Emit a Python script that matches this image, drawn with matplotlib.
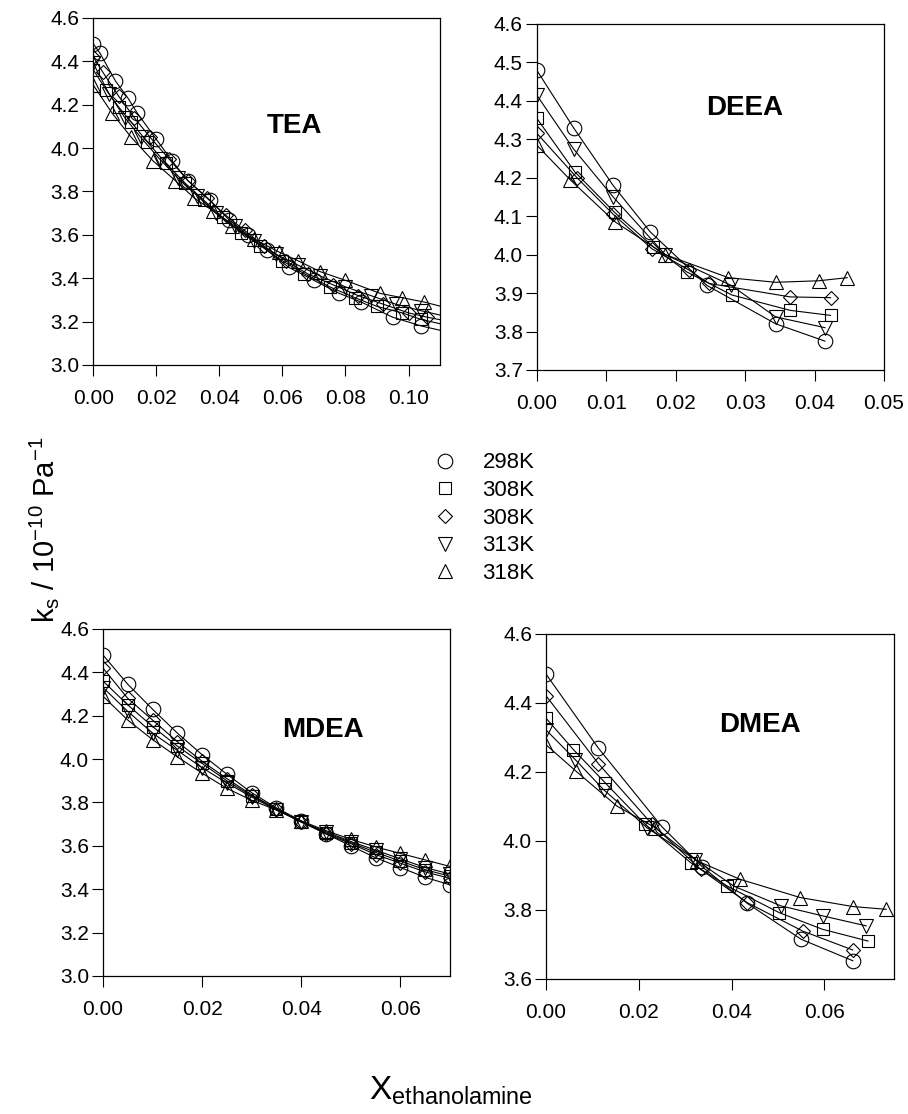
import matplotlib
matplotlib.use("Agg")
import matplotlib.pyplot as plt
from matplotlib.lines import Line2D
from matplotlib.ticker import MultipleLocator, FormatStrFormatter

plt.rcParams['font.family'] = ['Liberation Sans', 'DejaVu Sans']
plt.rcParams['mathtext.fontset'] = 'custom'
plt.rcParams['mathtext.rm'] = 'Liberation Sans'
plt.rcParams['mathtext.it'] = 'Liberation Sans:italic'
plt.rcParams['mathtext.bf'] = 'Liberation Sans:bold'

temps = ['298K', '308K', '308K', '313K', '318K']
markers = ['o', 's', 'D', 'v', '^']
msizes = [10.5, 9, 7.5, 10, 10]

# TEA
tea_x_298 = [0.000, 0.002, 0.007, 0.011, 0.014, 0.020, 0.025, 0.030, 0.037, 0.043, 0.049, 0.055, 0.062, 0.070, 0.078, 0.085, 0.095, 0.104, 0.113]
tea_y_298 = [4.48, 4.44, 4.31, 4.23, 4.16, 4.04, 3.94, 3.85, 3.76, 3.67, 3.60, 3.53, 3.45, 3.39, 3.33, 3.29, 3.22, 3.18, 3.15]
tea_x_308a = [0.000, 0.004, 0.008, 0.012, 0.017, 0.023, 0.029, 0.035, 0.041, 0.047, 0.053, 0.060, 0.067, 0.075, 0.083, 0.090, 0.098, 0.104, 0.113]
tea_y_308a = [4.36, 4.27, 4.19, 4.12, 4.03, 3.93, 3.84, 3.76, 3.68, 3.61, 3.55, 3.48, 3.42, 3.36, 3.31, 3.27, 3.24, 3.21, 3.18]
tea_x_308b = [0.000, 0.003, 0.008, 0.013, 0.018, 0.024, 0.030, 0.036, 0.042, 0.048, 0.054, 0.061, 0.068, 0.076, 0.084, 0.092, 0.100, 0.106, 0.113]
tea_y_308b = [4.42, 4.35, 4.24, 4.14, 4.05, 3.95, 3.85, 3.77, 3.69, 3.62, 3.55, 3.48, 3.42, 3.37, 3.32, 3.28, 3.24, 3.22, 3.20]
tea_x_313 = [0.000, 0.005, 0.010, 0.015, 0.021, 0.027, 0.033, 0.039, 0.045, 0.051, 0.058, 0.065, 0.072, 0.080, 0.088, 0.096, 0.104, 0.113]
tea_y_313 = [4.39, 4.25, 4.14, 4.05, 3.95, 3.86, 3.78, 3.70, 3.64, 3.57, 3.51, 3.46, 3.41, 3.36, 3.32, 3.28, 3.25, 3.22]
tea_x_318 = [0.000, 0.006, 0.012, 0.019, 0.026, 0.032, 0.038, 0.044, 0.051, 0.059, 0.065, 0.072, 0.080, 0.091, 0.098, 0.105, 0.113]
tea_y_318 = [4.29, 4.16, 4.05, 3.94, 3.85, 3.77, 3.71, 3.64, 3.58, 3.52, 3.48, 3.43, 3.39, 3.33, 3.31, 3.29, 3.26]

# DEEA
deea_x_298 = [0.0, 0.0053, 0.0110, 0.0163, 0.0245, 0.0344, 0.0415]
deea_y_298 = [4.48, 4.33, 4.18, 4.06, 3.92, 3.82, 3.775]
deea_x_308a = [0.0, 0.0055, 0.0112, 0.0168, 0.0216, 0.0281, 0.0365, 0.0423]
deea_y_308a = [4.355, 4.215, 4.11, 4.02, 3.955, 3.895, 3.855, 3.842]
deea_x_308b = [0.0, 0.0058, 0.0110, 0.0166, 0.0219, 0.0248, 0.0365, 0.0423]
deea_y_308b = [4.316, 4.20, 4.105, 4.015, 3.96, 3.925, 3.89, 3.888]
deea_x_313 = [0.0, 0.0053, 0.0110, 0.0185, 0.0280, 0.0344, 0.0415]
deea_y_313 = [4.415, 4.275, 4.15, 4.00, 3.92, 3.838, 3.81]
deea_x_318 = [0.0, 0.0048, 0.0113, 0.0185, 0.0276, 0.0344, 0.0406, 0.0447]
deea_y_318 = [4.285, 4.195, 4.085, 4.00, 3.94, 3.928, 3.932, 3.94]

# MDEA
mdea_x = [0.000, 0.005, 0.010, 0.015, 0.020, 0.025, 0.030, 0.035, 0.040, 0.045, 0.050, 0.055, 0.060, 0.065, 0.070]
mdea_y_298 = [4.48, 4.345, 4.23, 4.12, 4.02, 3.93, 3.845, 3.775, 3.715, 3.655, 3.60, 3.545, 3.50, 3.455, 3.42]
mdea_y_308a = [4.36, 4.25, 4.15, 4.06, 3.98, 3.90, 3.83, 3.77, 3.71, 3.66, 3.615, 3.57, 3.53, 3.49, 3.46]
mdea_y_308b = [4.42, 4.28, 4.18, 4.08, 3.99, 3.91, 3.835, 3.77, 3.71, 3.655, 3.61, 3.56, 3.52, 3.48, 3.45]
mdea_y_313 = [4.33, 4.22, 4.12, 4.04, 3.96, 3.89, 3.825, 3.765, 3.71, 3.665, 3.62, 3.58, 3.54, 3.50, 3.47]
mdea_y_318 = [4.29, 4.18, 4.09, 4.01, 3.935, 3.865, 3.81, 3.765, 3.715, 3.67, 3.63, 3.595, 3.565, 3.535, 3.505]

# DMEA
dmea_x_298 = [0.0, 0.0113, 0.0250, 0.0337, 0.0434, 0.0550, 0.0661]
dmea_y_298 = [4.484, 4.269, 4.041, 3.925, 3.819, 3.715, 3.653]
dmea_x_308a = [0.0, 0.0059, 0.0128, 0.0214, 0.0312, 0.0391, 0.0503, 0.0596, 0.0694]
dmea_y_308a = [4.356, 4.265, 4.168, 4.048, 3.937, 3.869, 3.792, 3.744, 3.71]
dmea_x_308b = [0.0, 0.0113, 0.0229, 0.0333, 0.0434, 0.0553, 0.0661]
dmea_y_308b = [4.421, 4.224, 4.048, 3.918, 3.821, 3.739, 3.684]
dmea_x_313 = [0.0, 0.0063, 0.0124, 0.0218, 0.0322, 0.0405, 0.0506, 0.0596, 0.0690]
dmea_y_313 = [4.322, 4.236, 4.149, 4.038, 3.946, 3.869, 3.812, 3.783, 3.754]
dmea_x_318 = [0.0, 0.0065, 0.0153, 0.0236, 0.0326, 0.0418, 0.0548, 0.0661, 0.0733]
dmea_y_318 = [4.279, 4.202, 4.101, 4.038, 3.942, 3.889, 3.836, 3.81, 3.802]


def panel(fig, rect, series, name, name_pos, xlim, xstep, ylim, ystep):
    ax = fig.add_axes(rect)
    for (x, y), m, ms in zip(series, markers, msizes):
        ax.plot(x, y, color='black', lw=0.8, marker=m, ms=ms,
                mfc='none', mec='black', mew=0.8)
    ax.set_xlim(*xlim)
    ax.set_ylim(*ylim)
    ax.xaxis.set_major_locator(MultipleLocator(xstep))
    ax.yaxis.set_major_locator(MultipleLocator(ystep))
    ax.xaxis.set_major_formatter(FormatStrFormatter('%.2f'))
    ax.yaxis.set_major_formatter(FormatStrFormatter('%.1f'))
    ax.tick_params(direction='out', length=8, width=0.8, labelsize=15)
    ax.tick_params(axis='x', pad=9)
    ax.tick_params(axis='y', pad=2)
    for s in ax.spines.values():
        s.set_linewidth(0.9)
    ax.text(name_pos[0], name_pos[1], name, transform=ax.transAxes,
            fontsize=20, fontweight='bold', ha='center', va='center')
    return ax


def main():
    fig = plt.figure(figsize=(9.08, 11.14), dpi=100)

    panel(fig, [0.1028, 0.6724, 0.3818, 0.3115],
          [(tea_x_298, tea_y_298), (tea_x_308a, tea_y_308a), (tea_x_308b, tea_y_308b),
           (tea_x_313, tea_y_313), (tea_x_318, tea_y_318)],
          'TEA', (0.58, 0.69), (0, 0.11), 0.02, (3.0, 4.6), 0.2)
    panel(fig, [0.5911, 0.6679, 0.3825, 0.3106],
          [(deea_x_298, deea_y_298), (deea_x_308a, deea_y_308a), (deea_x_308b, deea_y_308b),
           (deea_x_313, deea_y_313), (deea_x_318, deea_y_318)],
          'DEEA', (0.60, 0.757), (0, 0.05), 0.01, (3.7, 4.6), 0.1)
    panel(fig, [0.1134, 0.1239, 0.3822, 0.3115],
          [(mdea_x, mdea_y_298), (mdea_x, mdea_y_308a), (mdea_x, mdea_y_308b),
           (mdea_x, mdea_y_313), (mdea_x, mdea_y_318)],
          'MDEA', (0.634, 0.709), (0, 0.07), 0.02, (3.0, 4.6), 0.2)
    panel(fig, [0.6013, 0.1212, 0.3833, 0.3097],
          [(dmea_x_298, dmea_y_298), (dmea_x_308a, dmea_y_308a), (dmea_x_308b, dmea_y_308b),
           (dmea_x_313, dmea_y_313), (dmea_x_318, dmea_y_318)],
          'DMEA', (0.615, 0.736), (0, 0.075), 0.02, (3.6, 4.6), 0.2)

    handles = [Line2D([], [], ls='none', marker=m, ms=ms, mfc='none',
                      mec='black', mew=0.8) for m, ms in zip(markers, msizes)]
    fig.legend(handles, temps, loc='upper left', bbox_to_anchor=(0.472, 0.594),
               frameon=False, fontsize=16, handlelength=1.5, handletextpad=0.93,
               labelspacing=0.3, borderpad=0, borderaxespad=0)

    fig.text(0.048, 0.524, r'k$_\mathrm{s}$ / 10$^{\mathrm{-10}}$ Pa$^{\mathrm{-1}}$',
             rotation=90, fontsize=21, ha='center', va='center')
    fig.text(0.497, 0.0126, r'X$_\mathrm{ethanolamine}$', fontsize=24,
             ha='center', va='baseline')

    fig.savefig('out.png', dpi=100)


if __name__ == '__main__':
    main()
